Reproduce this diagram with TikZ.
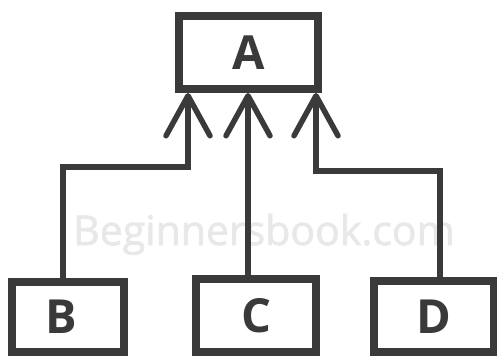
\documentclass[tikz,border=0pt]{standalone}
\usepackage{fontspec}
\setmainfont{Open Sans}
\newfontfamily\wmfont{Open Sans}[FakeBold=1.6]
\usetikzlibrary{arrows.meta}
\definecolor{ink}{HTML}{3A3A3A}
\definecolor{wm}{HTML}{E8E8E8}
\tikzset{
  box/.style={draw=ink, line width=8pt, rectangle, inner sep=0pt, text=ink,
    font=\fontsize{47}{50}\selectfont\bfseries},
  link/.style={draw=ink, line width=5.5pt,
    -{Straight Barb[length=40pt, width=44pt, line width=5.5pt, round=false]}},
}
\begin{document}
\begin{tikzpicture}[x=1pt, y=-1pt]
  \useasboundingbox (0,0) rectangle (497,356);
  \fill[white] (0,0) rectangle (497,356);
  \node[anchor=base west, text=wm, font=\wmfont\fontsize{41}{44}\selectfont, inner sep=0pt] (wmk) at (73,245) {Beginnersbook.com};
  \node[box, minimum width=139pt, minimum height=73pt] (A) at (248.5,52.5) {A};
  \node[box, minimum width=112pt, minimum height=70pt] (B) at (68,317) {\kern-14pt B};
  \node[box, minimum width=120pt, minimum height=73pt] (C) at (256,315.5) {C};
  \node[box, minimum width=120pt, minimum height=71pt] (D) at (434,316.5) {D};
  \draw[link] ([xshift=-5pt]B.north) |- ([xshift=-60.5pt, yshift=-74pt]A.south) -- ([xshift=-60.5pt]A.south);
  \draw[link] ([xshift=-8pt]C.north) -- ([xshift=-0.5pt]A.south);
  \draw[link] ([xshift=6pt]D.north) |- ([xshift=67.5pt, yshift=-78pt]A.south) -- ([xshift=67.5pt]A.south);
\end{tikzpicture}
\end{document}
